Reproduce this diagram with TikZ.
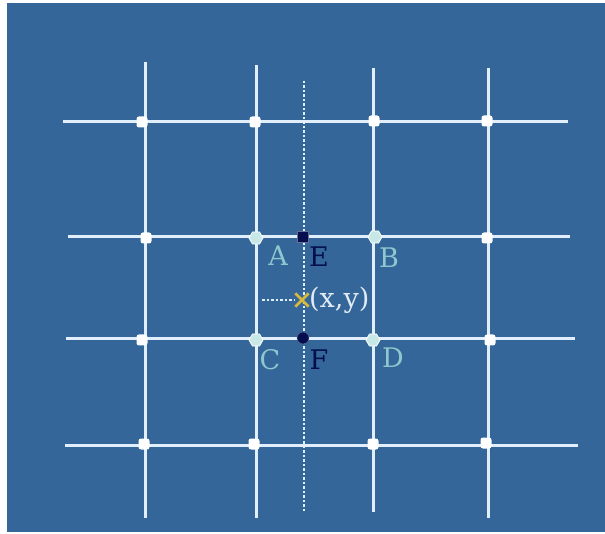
\documentclass[tikz,border=0pt]{standalone}
\usepackage{fontspec}
\setmainfont{DejaVu Serif}
\usetikzlibrary{shapes.geometric}
\definecolor{bg}{RGB}{52,102,153}
\definecolor{gridline}{RGB}{225,238,252}
\definecolor{ptlight}{RGB}{200,232,232}
\definecolor{lbllight}{RGB}{140,200,205}
\definecolor{navy}{RGB}{5,15,80}
\definecolor{xyell}{RGB}{215,185,60}
\definecolor{xytext}{RGB}{225,235,245}
\tikzset{
  x=1pt,y=-1pt,
  gline/.style={draw=gridline,line width=3pt},
  dotline/.style={draw=gridline,line width=2.4pt,dash pattern=on 2.5pt off 2pt},
  wdot/.style={fill=white,draw=none,rounded corners=2.5pt,minimum size=11pt,inner sep=0pt,rectangle},
  gpoint/.style={fill=ptlight,draw=white,line width=0.8pt,regular polygon,regular polygon sides=6,minimum size=14pt,inner sep=0pt},
  lbl/.style={font=\fontsize{27}{27}\selectfont,text=lbllight,inner sep=0pt},
  lbln/.style={font=\fontsize{27}{27}\selectfont,text=navy,inner sep=0pt},
}
\begin{document}
\begin{tikzpicture}
\useasboundingbox (0,0) rectangle (605,534);
\fill[bg] (7,3) rectangle (605,532);
% line ends
\coordinate (v1t) at (145,62); \coordinate (v1b) at (145,518);
\coordinate (v2t) at (256,65); \coordinate (v2b) at (256,518);
\coordinate (v3t) at (373,68); \coordinate (v3b) at (373,512);
\coordinate (v4t) at (488,68); \coordinate (v4b) at (488,518);
\coordinate (dt) at (304,81); \coordinate (db) at (304,512);
\coordinate (h1l) at (63,122); \coordinate (h1r) at (568,122);
\coordinate (h2l) at (68,237); \coordinate (h2r) at (570,237);
\coordinate (h3l) at (66,339); \coordinate (h3r) at (575,339);
\coordinate (h4l) at (65,445); \coordinate (h4r) at (578,445);
\coordinate (xl) at (262,300);
% grid
\draw[gline] (v1t) -- (v1b);
\draw[gline] (v2t) -- (v2b);
\draw[gline] (v3t) -- (v3b);
\draw[gline] (v4t) -- (v4b);
\draw[gline] (h1l) -- (h1r);
\draw[gline] (h2l) -- (h2r);
\draw[gline] (h3l) -- (h3r);
\draw[gline] (h4l) -- (h4r);
\draw[dotline] (dt) -- (db);
% white dots
\node[wdot] (p11) at (142,122) {};
\node[wdot] (p12) at (255,122) {};
\node[wdot] (p13) at (374,121) {};
\node[wdot] (p14) at (487,121) {};
\node[wdot] (p21) at (146,238) {};
\node[wdot] (p24) at (487,238) {};
\node[wdot] (p31) at (142,340) {};
\node[wdot] (p34) at (490,340) {};
\node[wdot] (p41) at (144,444) {};
\node[wdot] (p42) at (254,444) {};
\node[wdot] (p43) at (373,444) {};
\node[wdot] (p44) at (486,443) {};
% highlighted points
\node[gpoint] (A) at (256,238) {};
\node[gpoint] (B) at (375,237) {};
\node[gpoint] (C) at (256,340) {};
\node[gpoint] (D) at (373,340) {};
\node[fill=navy,draw=navy!60,minimum size=11pt,inner sep=0pt,rectangle] (E) at (303,237) {};
\node[fill=navy,draw=navy!60,minimum size=12pt,inner sep=0pt,circle] (F) at (303,338) {};
% interpolated point
\node[inner sep=0pt,minimum size=13pt] (X) at (302,300) {};
\draw[dotline,line width=2pt] (xl) -- (X.west);
\draw[xyell,line width=2.6pt] (X.north west) -- (X.south east) (X.north east) -- (X.south west);
% labels
\node[lbl] (lA) at (278,256) {A};
\node[lbln] (lE) at (319,257) {E};
\node[lbl] (lB) at (389,258) {B};
\node[lbl] (lC) at (270,360) {C};
\node[lbln] (lF) at (319,360) {F};
\node[lbl] (lD) at (393,358) {D};
\node[font=\fontsize{27}{27}\selectfont,text=xytext,inner sep=0pt,anchor=west] (lxy) at (309,300) {(x,y)};
\end{tikzpicture}
\end{document}
